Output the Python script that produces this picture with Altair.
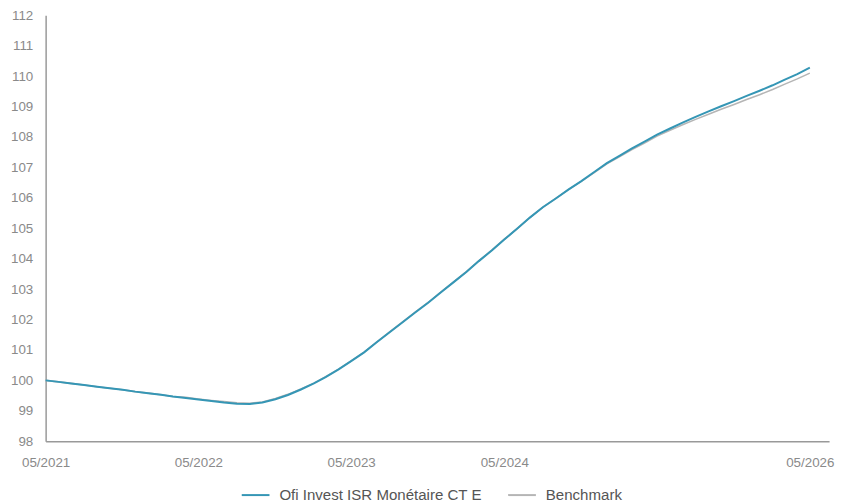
import altair as alt
import pandas as pd

months = pd.date_range("2021-05-01", periods=61, freq="MS").strftime("%Y-%m-%d").tolist()

fund_name = "Ofi Invest ISR Monétaire CT E"
bench_name = "Benchmark"

fund = [100.00, 99.95, 99.90, 99.85, 99.79, 99.74, 99.69, 99.63, 99.58, 99.53,
        99.47, 99.42, 99.37, 99.32, 99.27, 99.23, 99.22, 99.27, 99.38, 99.52,
        99.70, 99.90, 100.11, 100.36, 100.63, 100.92, 101.25, 101.58, 101.91, 102.23,
        102.55, 102.89, 103.23, 103.57, 103.92, 104.27, 104.63, 104.99, 105.35, 105.69,
        105.98, 106.27, 106.55, 106.84, 107.14, 107.39, 107.62, 107.85, 108.08, 108.28,
        108.47, 108.66, 108.84, 109.01, 109.18, 109.35, 109.52, 109.70, 109.88, 110.07,
        110.28]

bench = [100.00, 99.95, 99.90, 99.85, 99.79, 99.74, 99.69, 99.63, 99.58, 99.53,
         99.47, 99.44, 99.39, 99.34, 99.30, 99.26, 99.25, 99.29, 99.40, 99.54,
         99.72, 99.91, 100.12, 100.37, 100.64, 100.93, 101.26, 101.59, 101.92, 102.24,
         102.56, 102.90, 103.24, 103.58, 103.93, 104.28, 104.64, 104.99, 105.35, 105.69,
         105.98, 106.27, 106.54, 106.82, 107.12, 107.36, 107.58, 107.80, 108.03, 108.22,
         108.40, 108.58, 108.75, 108.91, 109.07, 109.23, 109.39, 109.56, 109.73, 109.91,
         110.10]

y_ticks = list(range(98, 113))
x_tick_dates = ["2021-05-01", "2022-05-01", "2023-05-01", "2024-05-01", "2026-05-01"]

df_f = pd.DataFrame({"date": months, "value": fund, "series": fund_name})
df_b = pd.DataFrame({"date": months, "value": bench, "series": bench_name})

color_scale = alt.Scale(domain=[fund_name, bench_name], range=["#3596b5", "#b5b5b5"])

x_enc = alt.X(
    "date:T",
    title=None,
    scale=alt.Scale(type="utc",
                    domain=[alt.DateTime(year=2021, month=5, date=1, utc=True),
                            alt.DateTime(year=2026, month=6, date=16, utc=True)]),
    axis=alt.Axis(
        values=[alt.DateTime(year=int(d[:4]), month=int(d[5:7]), date=1, utc=True) for d in x_tick_dates],
        format="%m/%Y", grid=False, ticks=False, domainColor="#999999", domainWidth=1.5,
        labelColor="#8a8a8a", labelFontSize=13.5, labelFont="Liberation Sans",
        labelPadding=15, labelFlush=False,
    ),
)
y_enc = alt.Y(
    "value:Q",
    title=None,
    scale=alt.Scale(domain=[98, 112], nice=False, zero=False),
    axis=alt.Axis(
        values=y_ticks, grid=False, ticks=False, domainColor="#999999", domainWidth=1.5,
        labelColor="#8a8a8a", labelFontSize=13.5, labelFont="Liberation Sans",
        labelPadding=13,
    ),
)
color_enc = alt.Color(
    "series:N", scale=color_scale, title=None,
    legend=alt.Legend(
        orient="none", direction="horizontal", legendX=197, legendY=469,
        symbolType="stroke", symbolSize=784, symbolStrokeWidth=2,
        labelFont="Liberation Sans", labelFontSize=15.2, labelColor="#555555",
        labelOffset=9, columnPadding=22, padding=0, labelLimit=0,
    ),
)

bench_line = alt.Chart(df_b).mark_line(strokeWidth=1.6).encode(x=x_enc, y=y_enc, color=color_enc)
fund_line = alt.Chart(df_f).mark_line(strokeWidth=2).encode(x=x_enc, y=y_enc, color=color_enc)

chart = alt.layer(bench_line, fund_line).properties(
    width=791, height=430,
    background="white",
    autosize=alt.AutoSizeParams(type="none"),
    padding={"left": 38, "top": 5, "right": 8, "bottom": 60},
).configure_view(stroke=None)

chart.save("out.html", embed_options={"renderer": "svg", "actions": False})
